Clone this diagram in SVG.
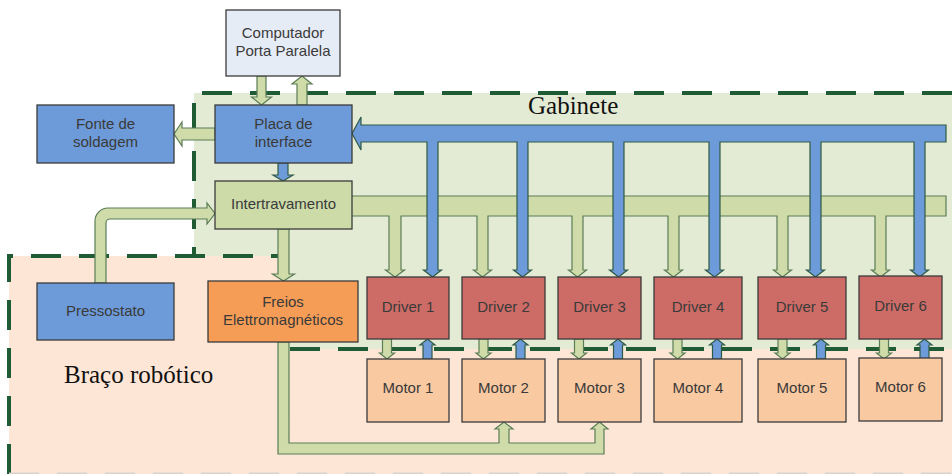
<svg xmlns="http://www.w3.org/2000/svg" xmlns:xlink="http://www.w3.org/1999/xlink" width="952" height="474" viewBox="0 0 952 474">
  <style>
    .box { stroke: #3b3b3b; stroke-width: 1.3; }
    .lbl { font-family: "Liberation Sans", Arial, sans-serif; font-size: 15px; fill: #3a3a3a; text-anchor: middle; }
    .region-lbl { font-family: "Liberation Serif", "Times New Roman", serif; font-size: 25px; fill: #111; }
    .dash { fill: none; stroke: #1f5b34; stroke-width: 4; stroke-dasharray: 30 18; }
    .g-arrow { fill: #cfdcaa; stroke: #5a7d55; stroke-width: 1.2; stroke-linejoin: miter; }
    .b-arrow { fill: #6d9ad8; stroke: #2f5a45; stroke-width: 1.2; stroke-linejoin: miter; }
    .blue { fill: #6d9ad8; }
    .pc { fill: #e6ecf6; }
    .lock { fill: #cddba9; }
    .brake { fill: #f59d56; }
    .drv { fill: #cd6c66; }
    .mot { fill: #f9c9a1; }
  </style>
  <defs>
    <!-- short driver/motor links, centred on x = 0 -->
    <path id="dnShort" d="M-4.5,339 V353 H-7.5 L0,359 L7.5,353 H4.5 V339 Z"/>
    <path id="upShort" d="M-4.5,359 V345 H-7.5 L0,339 L7.5,345 H4.5 V359 Z"/>
  </defs>

  <rect width="952" height="474" fill="#ffffff"/>

  <!-- enclosure areas -->
  <g id="braco">
    <path d="M9,256 H280 V349 H952 V474 H9 Z" fill="#fde6d6"/>
  </g>
  <g id="gabinete">
    <path d="M194,93 H952 V349 H280 V256 H194 Z" fill="#e4ebd5"/>
  </g>
  <g id="borders">
    <path class="dash" d="M952,93 H194 V256"/>
    <path class="dash" d="M9,474 V256 H278"/>
    <line class="dash" x1="290" y1="349" x2="952" y2="349"/>
    <line x1="9" y1="473.3" x2="952" y2="473.3" stroke="#d9d3cc" stroke-width="1.4" stroke-dasharray="30 18"/>
  </g>
  <text class="region-lbl" x="528" y="114">Gabinete</text>
  <text class="region-lbl" x="64" y="383">Braço robótico</text>

  <!-- connectors -->
  <g id="connectors">
    <!-- PC <-> interface board -->
    <path class="g-arrow" d="M257,76 V97 H251.5 L261.5,105 L271.5,97 H266 V76 Z"/>
    <path class="g-arrow" d="M297,105 V84 H292 L302,76 L312,84 H307 V105 Z"/>
    <!-- interface board -> welding supply -->
    <path class="g-arrow" d="M215,128 H182 V122 L174,134 L182,146 V140 H215 Z"/>
    <!-- interface board -> interlock -->
    <path class="b-arrow" d="M278,163 V175 H273 L283,181 L293,175 H288 V163 Z"/>
    <!-- pressure switch -> interlock -->
    <path class="g-arrow" d="M95,283 V221 A13,13 0 0 1 108,208 H207 V203 L215,213.5 L207,224 V219 H110 A4,4 0 0 0 106,223 V283 Z"/>
    <!-- interlock -> brakes -->
    <path class="g-arrow" d="M278,229 V274 H272.5 L283.5,281 L294.5,274 H289 V229 Z"/>
    <!-- interlock bus to drivers -->
    <path class="g-arrow" d="M351,196 L946,196 L946,216
      L886,216 L886,270 L889.5,270 L880.5,277 L871.5,270 L875,270 L875,216
      L788,216 L788,270 L791.5,270 L782.5,277 L773.5,270 L777,270 L777,216
      L679,216 L679,270 L682.5,270 L673.5,277 L664.5,270 L668,270 L668,216
      L583,216 L583,270 L586.5,270 L577.5,277 L568.5,270 L572,270 L572,216
      L488,216 L488,270 L491.5,270 L482.5,277 L473.5,270 L477,270 L477,216
      L401,216 L401,270 L404.5,270 L395,277 L385.5,270 L389,270 L389,216
      L351,216 Z"/>
    <!-- driver bus to interface board -->
    <path class="b-arrow" d="M352,133.5 L361,117 L361,125 L946,125 L946,142
      L925,142 L925,270 L928.5,270 L919.5,277 L910.5,270 L914,270 L914,142
      L821,142 L821,270 L824.5,270 L815.5,277 L806.5,270 L810,270 L810,142
      L720,142 L720,270 L723.5,270 L714.5,277 L705.5,270 L709,270 L709,142
      L624,142 L624,270 L627.5,270 L618.5,277 L609.5,270 L613,270 L613,142
      L528,142 L528,270 L531.5,270 L522.5,277 L513.5,270 L517,270 L517,142
      L438,142 L438,270 L441.5,270 L432.5,277 L423.5,270 L427,270 L427,142
      L361,142 L361,150 Z"/>
    <!-- driver <-> motor links -->
    <use href="#dnShort" class="g-arrow" x="387"/>
    <use href="#upShort" class="b-arrow" x="427.5"/>
    <use href="#dnShort" class="g-arrow" x="483.5"/>
    <use href="#upShort" class="b-arrow" x="520.5"/>
    <use href="#dnShort" class="g-arrow" x="579"/>
    <use href="#upShort" class="b-arrow" x="618"/>
    <use href="#dnShort" class="g-arrow" x="677.5"/>
    <use href="#upShort" class="b-arrow" x="717"/>
    <use href="#dnShort" class="g-arrow" x="782.5"/>
    <use href="#upShort" class="b-arrow" x="821"/>
    <use href="#dnShort" class="g-arrow" x="884"/>
    <use href="#upShort" class="b-arrow" x="924.5"/>
    <!-- brakes -> motors 2 and 3 -->
    <path class="g-arrow" d="M278,342 V454 H604 V429 H608 L599.5,422 L591,429 H595 V443 H509 V429 H513 L504,422 L495,429 H499 V443 H289 V342 Z"/>
  </g>

  <!-- nodes -->
  <g id="computador">
    <rect class="box pc" x="226" y="10" width="114" height="66"/>
    <text class="lbl" x="283" y="38">Computador</text>
    <text class="lbl" x="283" y="56">Porta Paralela</text>
  </g>
  <g id="fonte">
    <rect class="box blue" x="37" y="105" width="137" height="58"/>
    <text class="lbl" x="105.5" y="129">Fonte de</text>
    <text class="lbl" x="105.5" y="147">soldagem</text>
  </g>
  <g id="placa">
    <rect class="box blue" x="215" y="105" width="137" height="58"/>
    <text class="lbl" x="283.5" y="129">Placa de</text>
    <text class="lbl" x="283.5" y="147">interface</text>
  </g>
  <g id="intertravamento">
    <rect class="box lock" x="215" y="181" width="137" height="48"/>
    <text class="lbl" x="283.5" y="209">Intertravamento</text>
  </g>
  <g id="pressostato">
    <rect class="box blue" x="37" y="283" width="137" height="57"/>
    <text class="lbl" x="105.5" y="316">Pressostato</text>
  </g>
  <g id="freios">
    <rect class="box brake" x="208" y="281" width="150" height="61"/>
    <text class="lbl" x="283" y="307">Freios</text>
    <text class="lbl" x="283" y="325">Elettromagnéticos</text>
  </g>

  <g id="driver1"><rect class="box drv" x="367" y="277" width="82" height="62"/><text class="lbl" x="408" y="312">Driver 1</text></g>
  <g id="driver2"><rect class="box drv" x="462" y="277" width="83" height="62"/><text class="lbl" x="503.5" y="312">Driver 2</text></g>
  <g id="driver3"><rect class="box drv" x="558" y="277" width="83" height="62"/><text class="lbl" x="599.5" y="312">Driver 3</text></g>
  <g id="driver4"><rect class="box drv" x="654" y="277" width="88" height="62"/><text class="lbl" x="698" y="312">Driver 4</text></g>
  <g id="driver5"><rect class="box drv" x="758" y="277" width="88" height="62"/><text class="lbl" x="802" y="312">Driver 5</text></g>
  <g id="driver6"><rect class="box drv" x="859" y="276" width="83" height="63"/><text class="lbl" x="900.5" y="311">Driver 6</text></g>

  <g id="motor1"><rect class="box mot" x="367" y="359" width="82" height="63"/><text class="lbl" x="408" y="393">Motor 1</text></g>
  <g id="motor2"><rect class="box mot" x="462" y="359" width="83" height="63"/><text class="lbl" x="503.5" y="393">Motor 2</text></g>
  <g id="motor3"><rect class="box mot" x="558" y="359" width="83" height="63"/><text class="lbl" x="599.5" y="393">Motor 3</text></g>
  <g id="motor4"><rect class="box mot" x="654" y="359" width="88" height="63"/><text class="lbl" x="698" y="393">Motor 4</text></g>
  <g id="motor5"><rect class="box mot" x="758" y="359" width="88" height="63"/><text class="lbl" x="802" y="393">Motor 5</text></g>
  <g id="motor6"><rect class="box mot" x="859" y="358" width="83" height="63"/><text class="lbl" x="900.5" y="392">Motor 6</text></g>
</svg>
